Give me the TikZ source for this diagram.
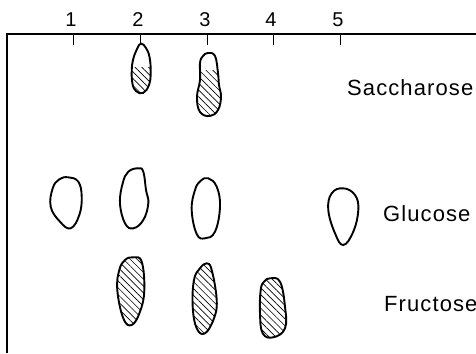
\documentclass[tikz,border=0pt]{standalone}
\usepackage{fontspec}
\newfontfamily\labfont{Liberation Sans}[LetterSpace=5]
\newfontfamily\numfont{Liberation Sans}
\usetikzlibrary{patterns.meta}
\newcommand{\blobSa}{plot[smooth cycle,tension=0.7] coordinates {(141,43.5) (146,48) (149.5,57) (150.7,72) (149,85) (143,93) (136,91) (132.5,84) (131.7,72) (133,60) (137,49)}}
\newcommand{\blobSb}{plot[smooth cycle,tension=0.7] coordinates {(208,53) (215,56) (218,73) (219,85) (221,97) (218,110) (210,116) (200,112) (197,97) (200,80) (200,63) (203,56)}}
\newcommand{\blobGa}{plot[smooth cycle,tension=0.7] coordinates {(68.3,177.3) (78.3,181.7) (81.7,196.7) (79.3,215) (70.7,228.3) (60,221.7) (50.7,206.7) (52.7,188.3) (59.3,179.3)}}
\newcommand{\blobGb}{plot[smooth cycle,tension=0.7] coordinates {(138.3,168.3) (143.3,171.7) (146,190) (148.3,203.3) (143.3,220) (133.3,228.3) (125,223.3) (120,203.3) (122.7,183.3) (128.3,171.7)}}
\newcommand{\blobGc}{plot[smooth cycle,tension=0.7] coordinates {(208.3,178.3) (216.7,186.7) (220,206.7) (215,231.7) (205,238.3) (196.7,234) (191.7,210) (195,190) (200.7,180.7)}}
\newcommand{\blobGe}{plot[smooth cycle,tension=0.7] coordinates {(343.3,188.3) (355,195) (358.3,210) (353.3,231.7) (343.3,245) (335,233.3) (328.3,210) (331.7,193.3)}}
\newcommand{\blobFb}{plot[smooth cycle,tension=0.7] coordinates {(133.3,257.3) (141.7,261.7) (144.3,290) (140,311.7) (131.7,325) (123.3,318.3) (117.3,290) (119.3,270) (125,260)}}
\newcommand{\blobFc}{plot[smooth cycle,tension=0.7] coordinates {(206.7,263.3) (211.7,270) (216.7,300) (214,318.3) (205,333.3) (196.7,328.3) (192.7,306.7) (194,280) (200,268.3)}}
\newcommand{\blobFd}{plot[smooth cycle,tension=0.7] coordinates {(270,278.3) (280,281.7) (285,306.7) (285,328.3) (273.3,337.3) (262.7,333.3) (260,313.3) (260.7,290) (264,281.7)}}
\begin{document}
\begin{tikzpicture}[x=1pt,y=-1pt,
  axis/.style={line width=1.3pt},
  tickmark/.style={line width=1pt},
  blob/.style={line width=1.9pt, line join=round},
  hatch/.style={pattern={Lines[angle=-45,distance=4.8pt,line width=0.65pt]}},
  numlab/.style={font=\numfont\fontsize{20}{20}\selectfont, inner sep=0pt},
  sugar/.style={font=\labfont\fontsize{22}{22}\selectfont, inner sep=0pt, anchor=west}]
\useasboundingbox (0,0) rectangle (476,353);
% axes
\coordinate (origin) at (7,34);
\coordinate (right) at (476,34);
\coordinate (bottom) at (7,353);
\draw[axis] (right) -- (origin) -- (bottom);
% ticks and numbers
\foreach \i/\x in {1/73,2/140,3/207,4/273,5/340}{
  \coordinate (t\i) at (\x,34);
  \coordinate (te\i) at (\x,45);
  \draw[tickmark] (t\i) -- (te\i);
  \node[numlab] (n\i) at (\x-2,20) {\i};
}
% hatched fills
\begin{scope}\clip \blobSa; \fill[hatch] (120,67) rectangle (160,100);\end{scope}
\begin{scope}\clip \blobSb; \fill[hatch] (190,70) rectangle (230,120);\end{scope}
\fill[hatch] \blobFb;
\fill[hatch] \blobFc;
\fill[hatch] \blobFd;
% outlines
\draw[blob] \blobSa;
\draw[blob] \blobSb;
\draw[blob] \blobGa;
\draw[blob] \blobGb;
\draw[blob] \blobGc;
\draw[blob] \blobGe;
\draw[blob] \blobFb;
\draw[blob] \blobFc;
\draw[blob] \blobFd;
% labels
\node[sugar] (sac) at (347,88) {Saccharose};
\node[sugar] (glu) at (383,214) {Glucose};
\node[sugar] (fru) at (384,304) {Fructose};
\end{tikzpicture}
\end{document}
